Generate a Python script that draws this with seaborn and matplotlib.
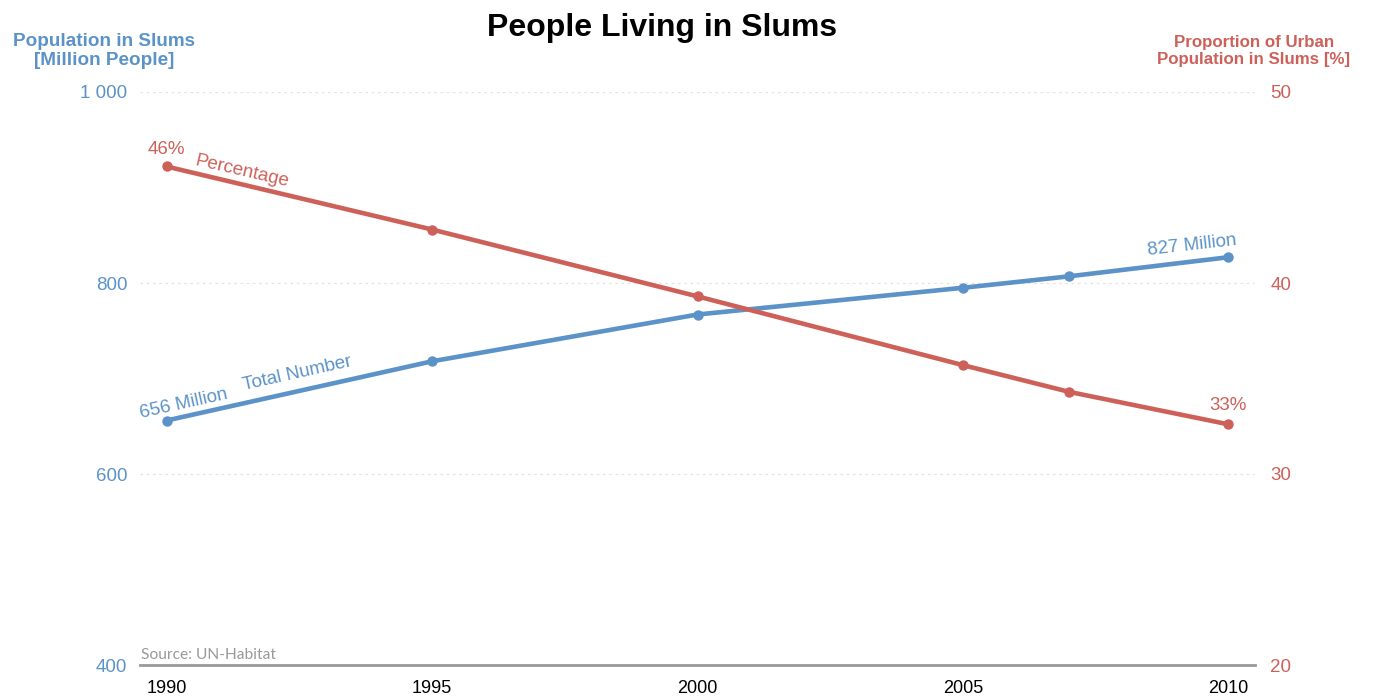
import numpy as np
import pandas as pd
import matplotlib
matplotlib.use('Agg')
import matplotlib.pyplot as plt
import seaborn as sns

sns.set_style('white')
plt.rcParams['font.family'] = ['Liberation Sans', 'DejaVu Sans']

# data
years = [1990, 1995, 2000, 2005, 2007, 2010]
total_million = [656, 718, 767, 795, 807, 827]
pct_urban = [46.1, 42.8, 39.3, 35.7, 34.3, 32.6]
left_ticks = [400, 600, 800, 1000]
left_ticklabels = ['400', '600', '800', '1 000']
right_ticks = [20, 30, 40, 50]
x_ticks = [1990, 1995, 2000, 2005, 2010]

blue = '#5b93c8'
red = '#cd615a'
df = pd.DataFrame({'year': years, 'total': total_million, 'pct': pct_urban})

fig = plt.figure(figsize=(13.8, 6.96), dpi=100)
ax = fig.add_axes([140 / 1380, 1 - 665 / 696, 1115 / 1380, 573 / 696])
ax2 = ax.twinx()

sns.lineplot(data=df, x='year', y='total', ax=ax, color=blue, lw=3.3,
             marker='o', markersize=7.5, markeredgewidth=0)
sns.lineplot(data=df, x='year', y='pct', ax=ax2, color=red, lw=3.3,
             marker='o', markersize=7.5, markeredgewidth=0)

ax.set_xlim(1989.5, 2010.5)
ax.set_ylim(400, 1000)
ax2.set_ylim(20, 50)
ax.set_xticks(x_ticks)
ax.set_yticks(left_ticks)
ax.set_yticklabels(left_ticklabels)
ax2.set_yticks(right_ticks)
ax.set_xlabel('')
ax.set_ylabel('')
ax2.set_ylabel('')

for v in left_ticks[1:]:
    ax.axhline(v, color='#e2e2e2', lw=0.9, ls=(0, (2, 3)), zorder=0)

for a in (ax, ax2):
    for s in ['top', 'left', 'right', 'bottom']:
        a.spines[s].set_visible(False)
ax.spines['bottom'].set_visible(True)
ax.spines['bottom'].set_color('#999999')
ax.spines['bottom'].set_linewidth(2)

ax.tick_params(axis='x', length=0, pad=11, labelsize=13, labelcolor='black')
ax.tick_params(axis='y', length=0, pad=9, labelsize=13.5, labelcolor=blue)
ax2.tick_params(axis='y', length=0, pad=11, labelsize=13.5, labelcolor=red)

# labels on the lines
x0, xn = years[0], years[-1]
fs = 13.5
ax.annotate('656 Million', (x0, total_million[0]), xytext=(17, 17),
            textcoords='offset pixels', ha='center', va='center',
            rotation=12.5, color=blue, fontsize=fs)
ax.annotate('Total Number', (x0, total_million[0]), xytext=(131, 47),
            textcoords='offset pixels', ha='center', va='center',
            rotation=12.5, color=blue, fontsize=fs)
ax.annotate('827 Million', (xn, total_million[-1]), xytext=(-36, 12),
            textcoords='offset pixels', ha='center', va='center',
            rotation=6.5, color=blue, fontsize=fs)
ax2.annotate('46%', (x0, pct_urban[0]), xytext=(0, 17),
             textcoords='offset pixels', ha='center', va='center',
             color=red, fontsize=fs)
ax2.annotate('Percentage', (x0, pct_urban[0]), xytext=(76, -5),
             textcoords='offset pixels', ha='center', va='center',
             rotation=-13, color=red, fontsize=fs)
ax2.annotate('33%', (xn, pct_urban[-1]), xytext=(0, 19),
             textcoords='offset pixels', ha='center', va='center',
             color=red, fontsize=fs)

fig.text(662 / 1380, 1 - 28 / 696, 'People Living in Slums', ha='center',
         va='center', fontsize=23, fontweight='bold', color='black')
fig.text(104 / 1380, 1 - 51 / 696, 'Population in Slums\n[Million People]',
         ha='center', va='center', fontsize=13.6, fontweight='bold',
         color=blue, linespacing=1.1)
fig.text(1254 / 1380, 1 - 51 / 696, 'Proportion of Urban\nPopulation in Slums [%]',
         ha='center', va='center', fontsize=12.2, fontweight='bold',
         color=red, linespacing=1.15)
fig.text(141 / 1380, 1 - 655 / 696, 'Source: UN-Habitat', ha='left',
         va='center', fontsize=11.2, color='#999999', family=['Lato', 'DejaVu Sans'])

fig.savefig('out.png', dpi=100)
